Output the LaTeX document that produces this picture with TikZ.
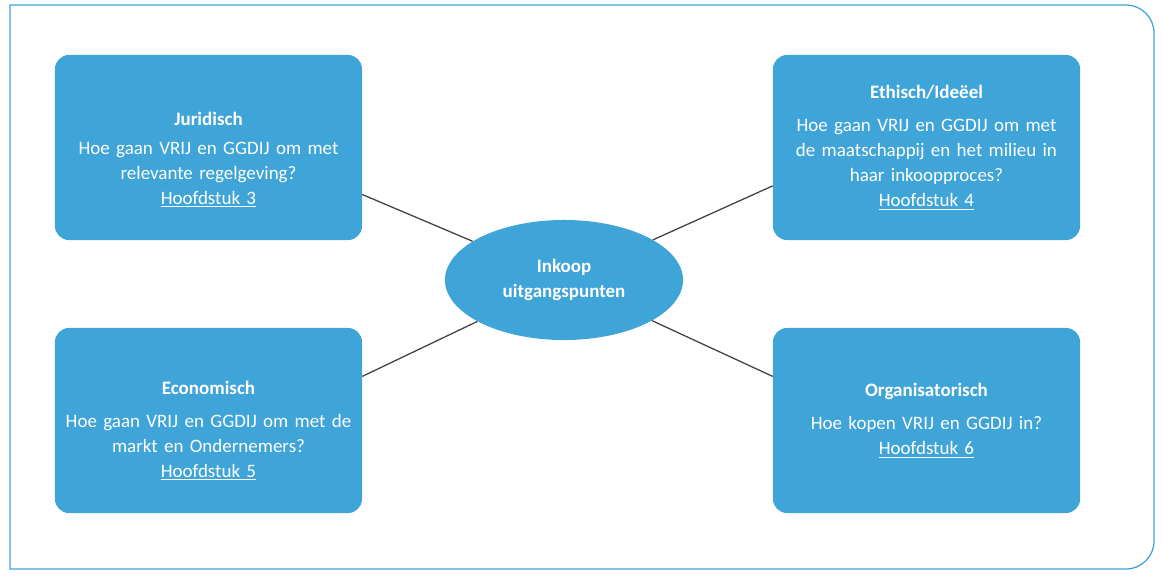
\documentclass[tikz,border=0pt]{standalone}
\usepackage{fontspec}
\setmainfont{Carlito}
\usetikzlibrary{shapes.geometric}
\definecolor{boxblue}{RGB}{63,164,216}
\definecolor{linegray}{RGB}{64,64,64}
\begin{document}
\begin{tikzpicture}[x=0.025cm,y=0.025cm,
    themebox/.style={rectangle, rounded corners=0.35cm, fill=boxblue, text=white,
      minimum width=7.675cm, minimum height=4.625cm, text width=7.2cm, align=center,
      font=\fontsize{13.5}{17.8}\selectfont},
    hubnode/.style={ellipse, fill=boxblue, text=white, inner sep=0pt,
      minimum width=5.95cm, minimum height=3cm, align=center,
      font=\fontsize{13.5}{17.8}\selectfont\bfseries}]
      \useasboundingbox (0,0) rectangle (1163,575);
      \draw[boxblue, line width=0.9pt] (10,6) -- (10,570) -- (1126,570)
        arc[start angle=90, end angle=0, radius=28] -- (1154,34)
        arc[start angle=0, end angle=-90, radius=28] -- cycle;
      \draw
        (208.5,427.5) node[themebox] (jur){\rule{0pt}{27pt}\textbf{Juridisch}\\[3pt]
          Hoe gaan VRIJ en GGDIJ om met\\ relevante regelgeving?\\ \underline{Hoofdstuk 3}}
        (926.5,427.5) node[themebox] (eth){\textbf{Ethisch/Ideëel}\\[6pt]
          Hoe gaan VRIJ en GGDIJ om met\\ de maatschappij en het milieu in\\
          haar inkoopproces?\\ \underline{Hoofdstuk 4}}
        (208.5,154.5) node[themebox] (eco){\rule{0pt}{24pt}\textbf{Economisch}\\[6pt]
          Hoe gaan VRIJ en GGDIJ om met de\\ markt en Ondernemers?\\ \underline{Hoofdstuk 5}}
        (926.5,154.5) node[themebox] (org){\textbf{Organisatorisch}\\[6pt]
          Hoe kopen VRIJ en GGDIJ in?\\ \underline{Hoofdstuk 6}}
        (564,295) node[hubnode] (hub){Inkoop\\ uitgangspunten};
      \begin{scope}[linegray, line width=0.9pt]
        \draw (jur.-17) to (hub);
        \draw (eth.194) to (hub);
        \draw (eco.16) to (hub);
        \draw (org.164) to (hub);
      \end{scope}
    \end{tikzpicture}
\end{document}
